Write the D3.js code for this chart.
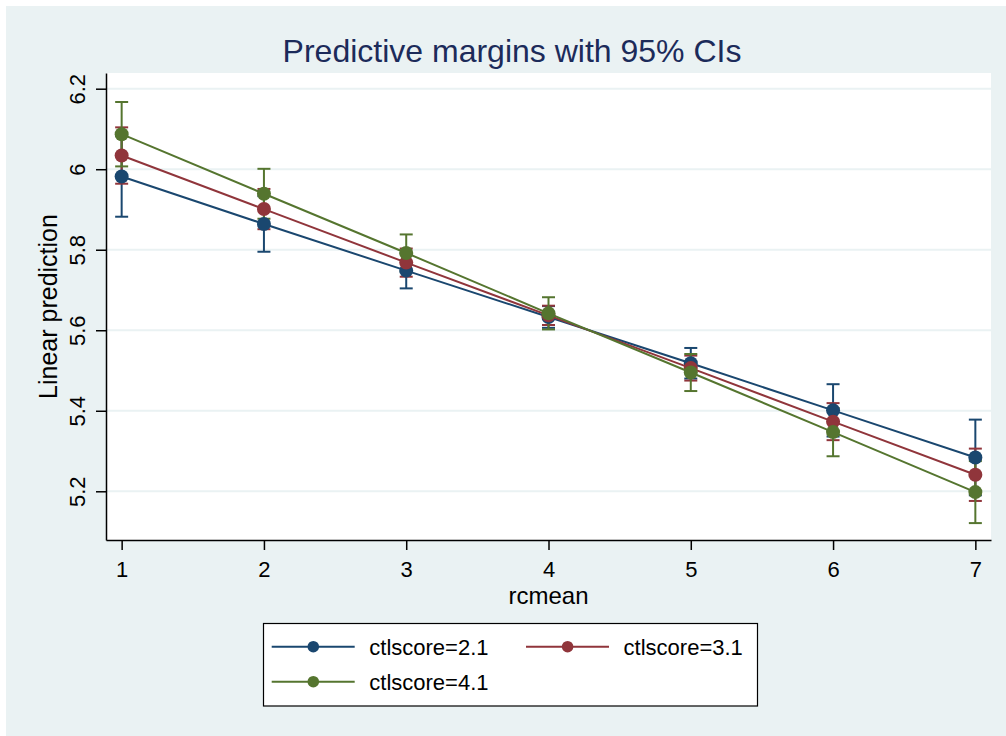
<!DOCTYPE html>
<html>
<head>
<meta charset="utf-8">
<script src="https://cdn.jsdelivr.net/npm/d3@7"></script>
<style>
    body { margin: 0; background: #fff; }
    text { font-family: "Liberation Sans", Arial, sans-serif; }
</style>
</head>
<body>
<div id="chart"></div>
<script>
// values
const xValues = [1, 2, 3, 4, 5, 6, 7];
const xTicks = [1, 2, 3, 4, 5, 6, 7];
const yTicks = [5.2, 5.4, 5.6, 5.8, 6, 6.2];

const seriesNames = ['ctlscore=2.1', 'ctlscore=3.1', 'ctlscore=4.1'];
const seriesColors = ['#1a476f', '#90353b', '#55752f'];

const mean21 = [5.982, 5.864, 5.748, 5.633, 5.518, 5.401, 5.284];
const lo21   = [5.882, 5.795, 5.704, 5.606, 5.480, 5.336, 5.190];
const hi21   = [6.082, 5.933, 5.792, 5.660, 5.556, 5.466, 5.378];

const mean31 = [6.034, 5.901, 5.768, 5.637, 5.506, 5.373, 5.241];
const lo31   = [5.964, 5.851, 5.733, 5.613, 5.475, 5.327, 5.176];
const hi31   = [6.104, 5.951, 5.803, 5.661, 5.537, 5.419, 5.306];

const mean41 = [6.087, 5.939, 5.792, 5.642, 5.495, 5.347, 5.198];
const lo41   = [6.007, 5.877, 5.746, 5.602, 5.449, 5.287, 5.121];
const hi41   = [6.167, 6.001, 5.838, 5.682, 5.541, 5.407, 5.275];

const series = [
    { name: seriesNames[0], color: seriesColors[0], mean: mean21, lo: lo21, hi: hi21 },
    { name: seriesNames[1], color: seriesColors[1], mean: mean31, lo: lo31, hi: hi31 },
    { name: seriesNames[2], color: seriesColors[2], mean: mean41, lo: lo41, hi: hi41 }
];

const width = 1006;
const height = 736;
const bg = '#eaf2f3';

const plot = { left: 106, right: 991, top: 73, bottom: 540 };

const svg = d3.select('#chart')
    .append('svg')
    .attr('width', width)
    .attr('height', height);

// outer background
svg.append('rect')
    .attr('x', 6).attr('y', 6)
    .attr('width', width - 6).attr('height', height - 6)
    .attr('fill', bg);

// plot region
svg.append('rect')
    .attr('x', plot.left).attr('y', plot.top)
    .attr('width', plot.right - plot.left).attr('height', plot.bottom - plot.top)
    .attr('fill', '#fff');

// Scales
const x = d3.scaleLinear()
    .domain([0.89, 7.11])
    .range([plot.left, plot.right]);

const y = d3.scaleLinear()
    .domain([5.079, 6.239])
    .range([plot.bottom, plot.top]);

// grid lines
svg.append('g')
    .selectAll('line')
    .data(yTicks)
    .join('line')
    .attr('x1', plot.left).attr('x2', plot.right)
    .attr('y1', d => y(d)).attr('y2', d => y(d))
    .attr('stroke', bg)
    .attr('stroke-width', 2);

// Axes
const gy = svg.append('g')
    .attr('transform', `translate(${plot.left},0)`)
    .call(d3.axisLeft(y).tickValues(yTicks).tickFormat(d3.format('~g')).tickSize(10).tickSizeOuter(0));

gy.selectAll('text')
    .attr('transform', 'rotate(-90)')
    .attr('x', 0)
    .attr('y', -21)
    .attr('dy', 0)
    .attr('text-anchor', 'middle')
    .attr('fill', '#000')
    .style('font-size', '22px');

const gx = svg.append('g')
    .attr('transform', `translate(0,${plot.bottom})`)
    .call(d3.axisBottom(x).tickValues(xTicks).tickFormat(d3.format('d')).tickSize(10).tickSizeOuter(0));

gx.selectAll('text')
    .attr('y', 37.2)
    .attr('dy', 0)
    .attr('fill', '#000')
    .style('font-size', '22px');

[gx, gy].forEach(g => {
    g.select('.domain').attr('stroke', '#000').attr('stroke-width', 1.5);
    g.selectAll('.tick line').attr('stroke', '#000').attr('stroke-width', 1.5);
});

// axis titles
svg.append('text')
    .attr('x', (plot.left + plot.right) / 2)
    .attr('y', 604)
    .attr('text-anchor', 'middle')
    .style('font-size', '24px')
    .text('rcmean');

svg.append('text')
    .attr('transform', `translate(56.5,${(plot.top + plot.bottom) / 2}) rotate(-90)`)
    .attr('text-anchor', 'middle')
    .style('font-size', '25px')
    .text('Linear prediction');

// title
svg.append('text')
    .attr('x', 512)
    .attr('y', 61.7)
    .attr('text-anchor', 'middle')
    .attr('fill', '#1c2b5a')
    .style('font-size', '32px')
    .text('Predictive margins with 95% CIs');

// confidence intervals first
const capHalf = 6.5;
series.forEach(s => {
    const g = svg.append('g').attr('stroke', s.color).attr('stroke-width', 2);
    const idx = d3.range(xValues.length);
    g.selectAll('.ci')
        .data(idx)
        .join('line')
        .attr('class', 'ci')
        .attr('x1', i => x(xValues[i])).attr('x2', i => x(xValues[i]))
        .attr('y1', i => y(s.lo[i])).attr('y2', i => y(s.hi[i]));
    g.selectAll('.caplo')
        .data(idx)
        .join('line')
        .attr('class', 'caplo')
        .attr('x1', i => x(xValues[i]) - capHalf).attr('x2', i => x(xValues[i]) + capHalf)
        .attr('y1', i => y(s.lo[i])).attr('y2', i => y(s.lo[i]));
    g.selectAll('.caphi')
        .data(idx)
        .join('line')
        .attr('class', 'caphi')
        .attr('x1', i => x(xValues[i]) - capHalf).attr('x2', i => x(xValues[i]) + capHalf)
        .attr('y1', i => y(s.hi[i])).attr('y2', i => y(s.hi[i]));
});

// lines and markers
const line = d3.line()
    .x((d, i) => x(xValues[i]))
    .y(d => y(d));

series.forEach(s => {
    svg.append('path')
        .datum(s.mean)
        .attr('d', line)
        .attr('fill', 'none')
        .attr('stroke', s.color)
        .attr('stroke-width', 2);
    svg.append('g')
        .selectAll('circle')
        .data(s.mean)
        .join('circle')
        .attr('cx', (d, i) => x(xValues[i]))
        .attr('cy', d => y(d))
        .attr('r', 7)
        .attr('fill', s.color);
});

// legend
const legend = svg.append('g');
legend.append('rect')
    .attr('x', 263.5).attr('y', 623.5)
    .attr('width', 494).attr('height', 82.5)
    .attr('fill', '#fff')
    .attr('stroke', '#000')
    .attr('stroke-width', 1.2);

const legendPos = [
    { x: 271.7, y: 646.7 },
    { x: 526, y: 646.7 },
    { x: 271.7, y: 681.7 }
];

series.forEach((s, i) => {
    const p = legendPos[i];
    const item = legend.append('g').attr('transform', `translate(${p.x},${p.y})`);
    item.append('line')
        .attr('x1', 0).attr('x2', 83)
        .attr('y1', 0).attr('y2', 0)
        .attr('stroke', s.color)
        .attr('stroke-width', 2);
    item.append('circle')
        .attr('cx', 41.6).attr('cy', 0)
        .attr('r', 5.8)
        .attr('fill', s.color);
    item.append('text')
        .attr('x', 97.6)
        .attr('y', 8)
        .style('font-size', '22px')
        .text(s.name);
});
</script>
</body>
</html>
